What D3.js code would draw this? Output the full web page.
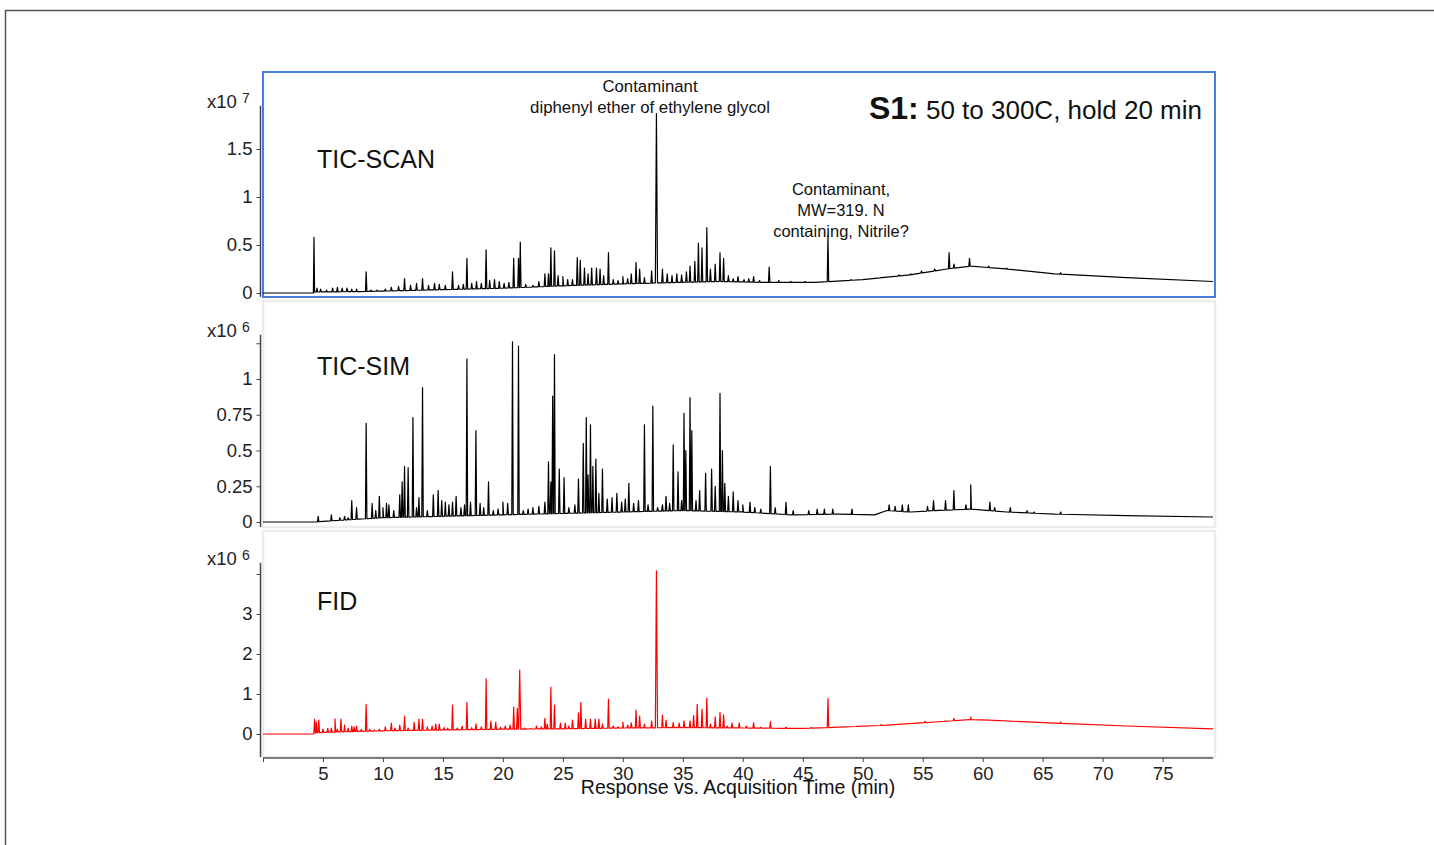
<!DOCTYPE html>
<html>
<head>
<meta charset="utf-8">
<script src="https://cdn.jsdelivr.net/npm/d3@7"></script>
<style>
  body { margin: 0; background: #fff; }
  svg { display: block; font-family: 'Liberation Sans', Arial, sans-serif; }
  .tick text { font-size: 18.5px; fill: #222; }
  .tick line { stroke: #444; }
</style>
</head>
<body>
<svg id="chart" width="1434" height="845"></svg>
<script>
// x ticks (minutes)
var timeTicks = [0, 5, 10, 15, 20, 25, 30, 35, 40, 45, 50, 55, 60, 65, 70, 75];

// TIC-SCAN, x10^7
var scanTicks = [0, 0.5, 1, 1.5];
var scanBase = [[0,0],[4.2,0],[4.3,0.01],[8,0.015],[10,0.02],[15,0.035],[20,0.05],[25,0.075],[30,0.095],[33,0.105],[38,0.12],[42,0.11],[46,0.11],[50,0.14],[54,0.19],[57,0.25],[59,0.28],[62,0.25],[66,0.2],[72,0.16],[79.2,0.12]];
var scanPeaks = [[4.25,0.58],[4.5,0.05],[4.8,0.04],[5.3,0.03],[5.8,0.05],[6.2,0.06],[6.6,0.05],[7.0,0.05],[7.4,0.04],[7.8,0.04],[8.6,0.22],[9.0,0.03],[9.5,0.03],[10.2,0.04],[10.7,0.06],[11.3,0.07],[11.8,0.15],[12.3,0.08],[12.8,0.1],[13.3,0.15],[13.8,0.08],[14.3,0.1],[14.7,0.09],[15.2,0.08],[15.8,0.22],[16.3,0.08],[16.7,0.09],[17.0,0.36],[17.4,0.1],[17.8,0.12],[18.2,0.1],[18.6,0.45],[18.9,0.13],[19.3,0.14],[19.7,0.12],[20.1,0.1],[20.5,0.11],[20.9,0.36],[21.3,0.36],[21.45,0.53],[21.9,0.09],[22.5,0.08],[23.0,0.12],[23.5,0.2],[23.8,0.2],[24.0,0.47],[24.3,0.44],[24.6,0.18],[25.0,0.17],[25.4,0.14],[25.8,0.14],[26.2,0.37],[26.45,0.34],[26.8,0.26],[27.1,0.2],[27.4,0.26],[27.8,0.26],[28.1,0.25],[28.4,0.18],[28.8,0.42],[29.2,0.14],[29.6,0.13],[30.0,0.17],[30.4,0.15],[30.7,0.2],[31.1,0.32],[31.4,0.25],[31.8,0.16],[32.4,0.23],[32.8,1.87],[33.3,0.25],[33.7,0.2],[34.1,0.18],[34.5,0.2],[34.9,0.19],[35.3,0.22],[35.6,0.28],[36.0,0.33],[36.3,0.52],[36.6,0.47],[37.0,0.68],[37.3,0.25],[37.7,0.3],[38.1,0.42],[38.4,0.36],[38.8,0.18],[39.2,0.15],[39.6,0.17],[40.1,0.14],[40.5,0.15],[40.9,0.17],[41.4,0.13],[42.2,0.27],[43.0,0.13],[44.0,0.12],[45.2,0.12],[47.1,0.6],[49.0,0.14],[51.5,0.16],[53.0,0.19],[54.0,0.2],[54.9,0.23],[56.0,0.25],[57.2,0.42],[57.6,0.3],[58.9,0.36],[60.5,0.28],[62.0,0.26],[66.5,0.21]];

// TIC-SIM, x10^6
var simTicks = [0, 0.25, 0.5, 0.75, 1, 1.25];
var simBase = [[0,0],[4.4,0],[5,0.005],[8,0.02],[10,0.03],[15,0.04],[20,0.05],[25,0.06],[30,0.07],[35,0.08],[40,0.07],[44,0.05],[48,0.055],[51,0.05],[52,0.08],[54,0.07],[56,0.08],[59,0.09],[62,0.07],[66,0.055],[72,0.045],[79.2,0.035]];
var simPeaks = [[4.6,0.04],[5.7,0.05],[6.4,0.03],[6.8,0.04],[7.1,0.03],[7.4,0.15],[7.8,0.1],[8.6,0.69],[9.1,0.13],[9.4,0.08],[9.7,0.18],[10.0,0.1],[10.3,0.13],[10.5,0.12],[10.9,0.08],[11.4,0.19],[11.6,0.28],[11.8,0.39],[12.1,0.38],[12.5,0.73],[12.8,0.1],[13.0,0.17],[13.3,0.94],[13.7,0.08],[14.2,0.19],[14.6,0.22],[14.9,0.15],[15.2,0.14],[15.5,0.12],[15.8,0.14],[16.1,0.18],[16.5,0.1],[16.8,0.12],[17.0,1.14],[17.3,0.14],[17.75,0.64],[18.1,0.13],[18.4,0.1],[18.8,0.28],[19.2,0.08],[19.6,0.09],[20.0,0.14],[20.4,0.13],[20.8,1.26],[21.3,1.23],[21.7,0.08],[22.1,0.09],[22.5,0.1],[23.0,0.11],[23.5,0.14],[23.8,0.42],[24.0,0.28],[24.15,0.88],[24.3,1.17],[24.7,0.37],[25.1,0.31],[25.5,0.1],[26.0,0.12],[26.3,0.3],[26.7,0.55],[26.95,0.73],[27.1,0.33],[27.3,0.68],[27.5,0.39],[27.75,0.44],[28.0,0.2],[28.3,0.37],[28.7,0.16],[29.1,0.17],[29.5,0.2],[29.9,0.14],[30.2,0.16],[30.5,0.27],[30.9,0.13],[31.3,0.15],[31.8,0.68],[32.1,0.12],[32.5,0.81],[32.9,0.1],[33.3,0.12],[33.6,0.18],[33.9,0.13],[34.2,0.54],[34.6,0.35],[34.9,0.15],[35.1,0.76],[35.25,0.5],[35.6,0.87],[35.75,0.64],[36.1,0.15],[36.4,0.22],[36.9,0.34],[37.4,0.37],[37.7,0.25],[38.1,0.9],[38.3,0.5],[38.5,0.27],[38.8,0.18],[39.2,0.21],[39.6,0.15],[40.0,0.12],[40.6,0.14],[41.0,0.1],[41.5,0.09],[42.3,0.39],[42.7,0.1],[43.6,0.14],[44.2,0.08],[45.5,0.08],[46.2,0.09],[46.8,0.09],[47.5,0.09],[49.1,0.09],[52.2,0.12],[52.7,0.11],[53.3,0.12],[53.8,0.12],[55.4,0.11],[55.9,0.15],[56.9,0.15],[57.6,0.22],[58.6,0.12],[59.0,0.26],[60.6,0.14],[61.0,0.1],[62.3,0.1],[63.7,0.08],[64.3,0.07],[66.5,0.07]];

// FID, x10^6
var fidTicks = [0, 1, 2, 3, 4];
var fidBase = [[0,0],[4.2,0],[4.4,0.03],[6,0.05],[10,0.08],[15,0.1],[20,0.12],[25,0.13],[30,0.15],[35,0.16],[40,0.15],[45,0.14],[48,0.17],[52,0.22],[56,0.3],[59,0.36],[61,0.34],[66,0.27],[72,0.2],[79.2,0.13]];
var fidPeaks = [[4.3,0.37],[4.45,0.3],[4.65,0.35],[5.0,0.12],[5.4,0.14],[5.7,0.15],[6.0,0.38],[6.2,0.12],[6.5,0.37],[6.8,0.22],[7.1,0.15],[7.4,0.2],[7.6,0.18],[7.8,0.2],[8.2,0.12],[8.6,0.74],[8.9,0.12],[9.3,0.1],[9.7,0.12],[10.2,0.18],[10.7,0.27],[11.0,0.15],[11.4,0.22],[11.8,0.45],[12.1,0.15],[12.6,0.29],[13.0,0.37],[13.3,0.37],[13.7,0.18],[14.1,0.2],[14.4,0.25],[14.7,0.25],[15.1,0.16],[15.4,0.15],[15.8,0.72],[16.2,0.15],[16.6,0.2],[17.0,0.79],[17.4,0.16],[17.75,0.25],[18.2,0.18],[18.6,1.38],[19.0,0.32],[19.4,0.29],[19.8,0.17],[20.2,0.2],[20.6,0.22],[20.9,0.67],[21.2,0.64],[21.4,1.6],[21.8,0.15],[22.3,0.14],[22.8,0.2],[23.2,0.18],[23.5,0.39],[23.7,0.25],[24.0,1.17],[24.3,0.72],[24.8,0.27],[25.2,0.27],[25.5,0.2],[25.8,0.35],[26.3,0.53],[26.5,0.79],[26.9,0.37],[27.3,0.37],[27.7,0.37],[28.0,0.37],[28.3,0.25],[28.8,0.87],[29.2,0.2],[29.6,0.18],[30.0,0.3],[30.4,0.22],[30.7,0.28],[31.1,0.6],[31.4,0.45],[31.8,0.25],[32.4,0.33],[32.8,4.08],[33.3,0.47],[33.6,0.35],[34.2,0.29],[34.7,0.27],[35.1,0.33],[35.6,0.33],[35.9,0.46],[36.2,0.74],[36.6,0.62],[37.0,0.9],[37.3,0.25],[37.7,0.43],[38.1,0.54],[38.4,0.48],[38.7,0.2],[39.1,0.27],[39.7,0.27],[40.3,0.2],[40.9,0.28],[41.5,0.17],[42.3,0.31],[43.6,0.17],[45.7,0.16],[47.1,0.89],[49.5,0.19],[51.5,0.23],[55.2,0.32],[56.9,0.33],[57.6,0.39],[59.0,0.42],[60.6,0.35],[66.5,0.3]];

var svg = d3.select('#chart');

// outer frame
svg.append('path').attr('d', 'M5.5,845 V10.5 H1434')
  .attr('fill', 'none').attr('stroke', '#555').attr('stroke-width', 1.5);

var x = d3.scaleLinear().domain([0, 79.2]).range([263, 1213]);

// turn baseline knots + peak apexes into a polyline
function buildTrace(base, peaks) {
  var b = d3.scaleLinear().domain(base.map(function(d) { return d[0]; }))
    .range(base.map(function(d) { return d[1]; }));
  var pts = base.slice();
  peaks.forEach(function(p) {
    var w = p[1] > 1.5 ? 0.09 : 0.06;
    pts.push([p[0] - w, b(p[0] - w)], [p[0], p[1]], [p[0] + w, b(p[0] + w)]);
  });
  pts.sort(function(a, c) { return a[0] - c[0]; });
  return pts;
}

var panels = [
  { name: 'TIC-SCAN', exp: '7', base: scanBase, peaks: scanPeaks, ticks: scanTicks,
    y0: 293, unit: 96, top: 72, bottom: 297, axTop: 1.95, axBot: -0.04,
    border: '#4a7ed8', bw: 2, color: '#000', labelY: 168 },
  { name: 'TIC-SIM', exp: '6', base: simBase, peaks: simPeaks, ticks: simTicks,
    y0: 522, unit: 143, top: 301, bottom: 527, axTop: 1.31, axBot: -0.035,
    border: '#ececec', bw: 2.5, color: '#000', labelY: 375 },
  { name: 'FID', exp: '6', base: fidBase, peaks: fidPeaks, ticks: fidTicks,
    y0: 734, unit: 40, top: 531, bottom: 757, axTop: 4.28, axBot: -0.58,
    border: '#ececec', bw: 2.5, color: '#ff0000', labelY: 610 }
];

panels.forEach(function(p) {
  var y = d3.scaleLinear().domain([0, 1]).range([p.y0, p.y0 - p.unit]);
  var g = svg.append('g');

  g.append('rect')
    .attr('x', 263).attr('y', p.top)
    .attr('width', 1215 - 263).attr('height', p.bottom - p.top)
    .attr('fill', 'none').attr('stroke', p.border).attr('stroke-width', p.bw);

  var line = d3.line()
    .x(function(d) { return x(d[0]); })
    .y(function(d) { return y(d[1]); });

  g.append('path')
    .datum(buildTrace(p.base, p.peaks))
    .attr('d', line)
    .attr('fill', 'none')
    .attr('stroke', p.color)
    .attr('stroke-width', 1.2)
    .attr('stroke-linejoin', 'round');

  // y axis
  var last = p.ticks[p.ticks.length - 1];
  var ax = g.append('g').attr('transform', 'translate(260.5,0)')
    .call(d3.axisLeft(y).tickValues(p.ticks).tickSize(4).tickPadding(4)
      .tickFormat(function(d) { return (d === last && p.name !== 'TIC-SCAN') ? '' : d; }));
  ax.select('.domain').remove();
  ax.append('line')
    .attr('y1', y(p.axTop)).attr('y2', y(p.axBot))
    .attr('stroke', '#444').attr('stroke-width', 1.5);

  var ex = g.append('text')
    .attr('x', 207).attr('y', y(p.axTop) + 2)
    .attr('font-size', 18.5).attr('fill', '#222');
  ex.append('tspan').text('x10 ');
  ex.append('tspan').attr('font-size', 14).attr('dy', -5).text(p.exp);

  g.append('text')
    .attr('x', 317).attr('y', p.labelY)
    .attr('font-size', 25).attr('fill', '#111')
    .text(p.name);
});

// x axis
var xa = svg.append('g').attr('transform', 'translate(0,758)')
  .call(d3.axisBottom(x).tickValues(timeTicks).tickSize(4).tickPadding(5)
    .tickFormat(function(d) { return d === 0 ? '' : d; }));
xa.select('.domain').attr('stroke', '#555').attr('stroke-width', 1.5)
  .attr('d', 'M263,0H1213');

svg.append('text')
  .attr('x', 738).attr('y', 794)
  .attr('text-anchor', 'middle')
  .attr('font-size', 19.5).attr('fill', '#111')
  .text('Response vs. Acquisition Time (min)');

// annotations
var ann1 = svg.append('text').attr('text-anchor', 'middle')
  .attr('font-size', 16.8).attr('fill', '#111');
ann1.append('tspan').attr('x', 650).attr('y', 92).text('Contaminant');
ann1.append('tspan').attr('x', 650).attr('y', 113).text('diphenyl ether of ethylene glycol');

var ann2 = svg.append('text').attr('text-anchor', 'middle')
  .attr('font-size', 16.5).attr('fill', '#111');
ann2.append('tspan').attr('x', 841).attr('y', 195).text('Contaminant,');
ann2.append('tspan').attr('x', 841).attr('y', 216).text('MW=319. N');
ann2.append('tspan').attr('x', 841).attr('y', 237).text('containing, Nitrile?');

var title = svg.append('text').attr('x', 1202).attr('y', 119)
  .attr('text-anchor', 'end').attr('fill', '#111');
title.append('tspan').attr('font-size', 32).attr('font-weight', 'bold').text('S1:');
title.append('tspan').attr('font-size', 26).text(' 50 to 300C, hold 20 min');
</script>
</body>
</html>
